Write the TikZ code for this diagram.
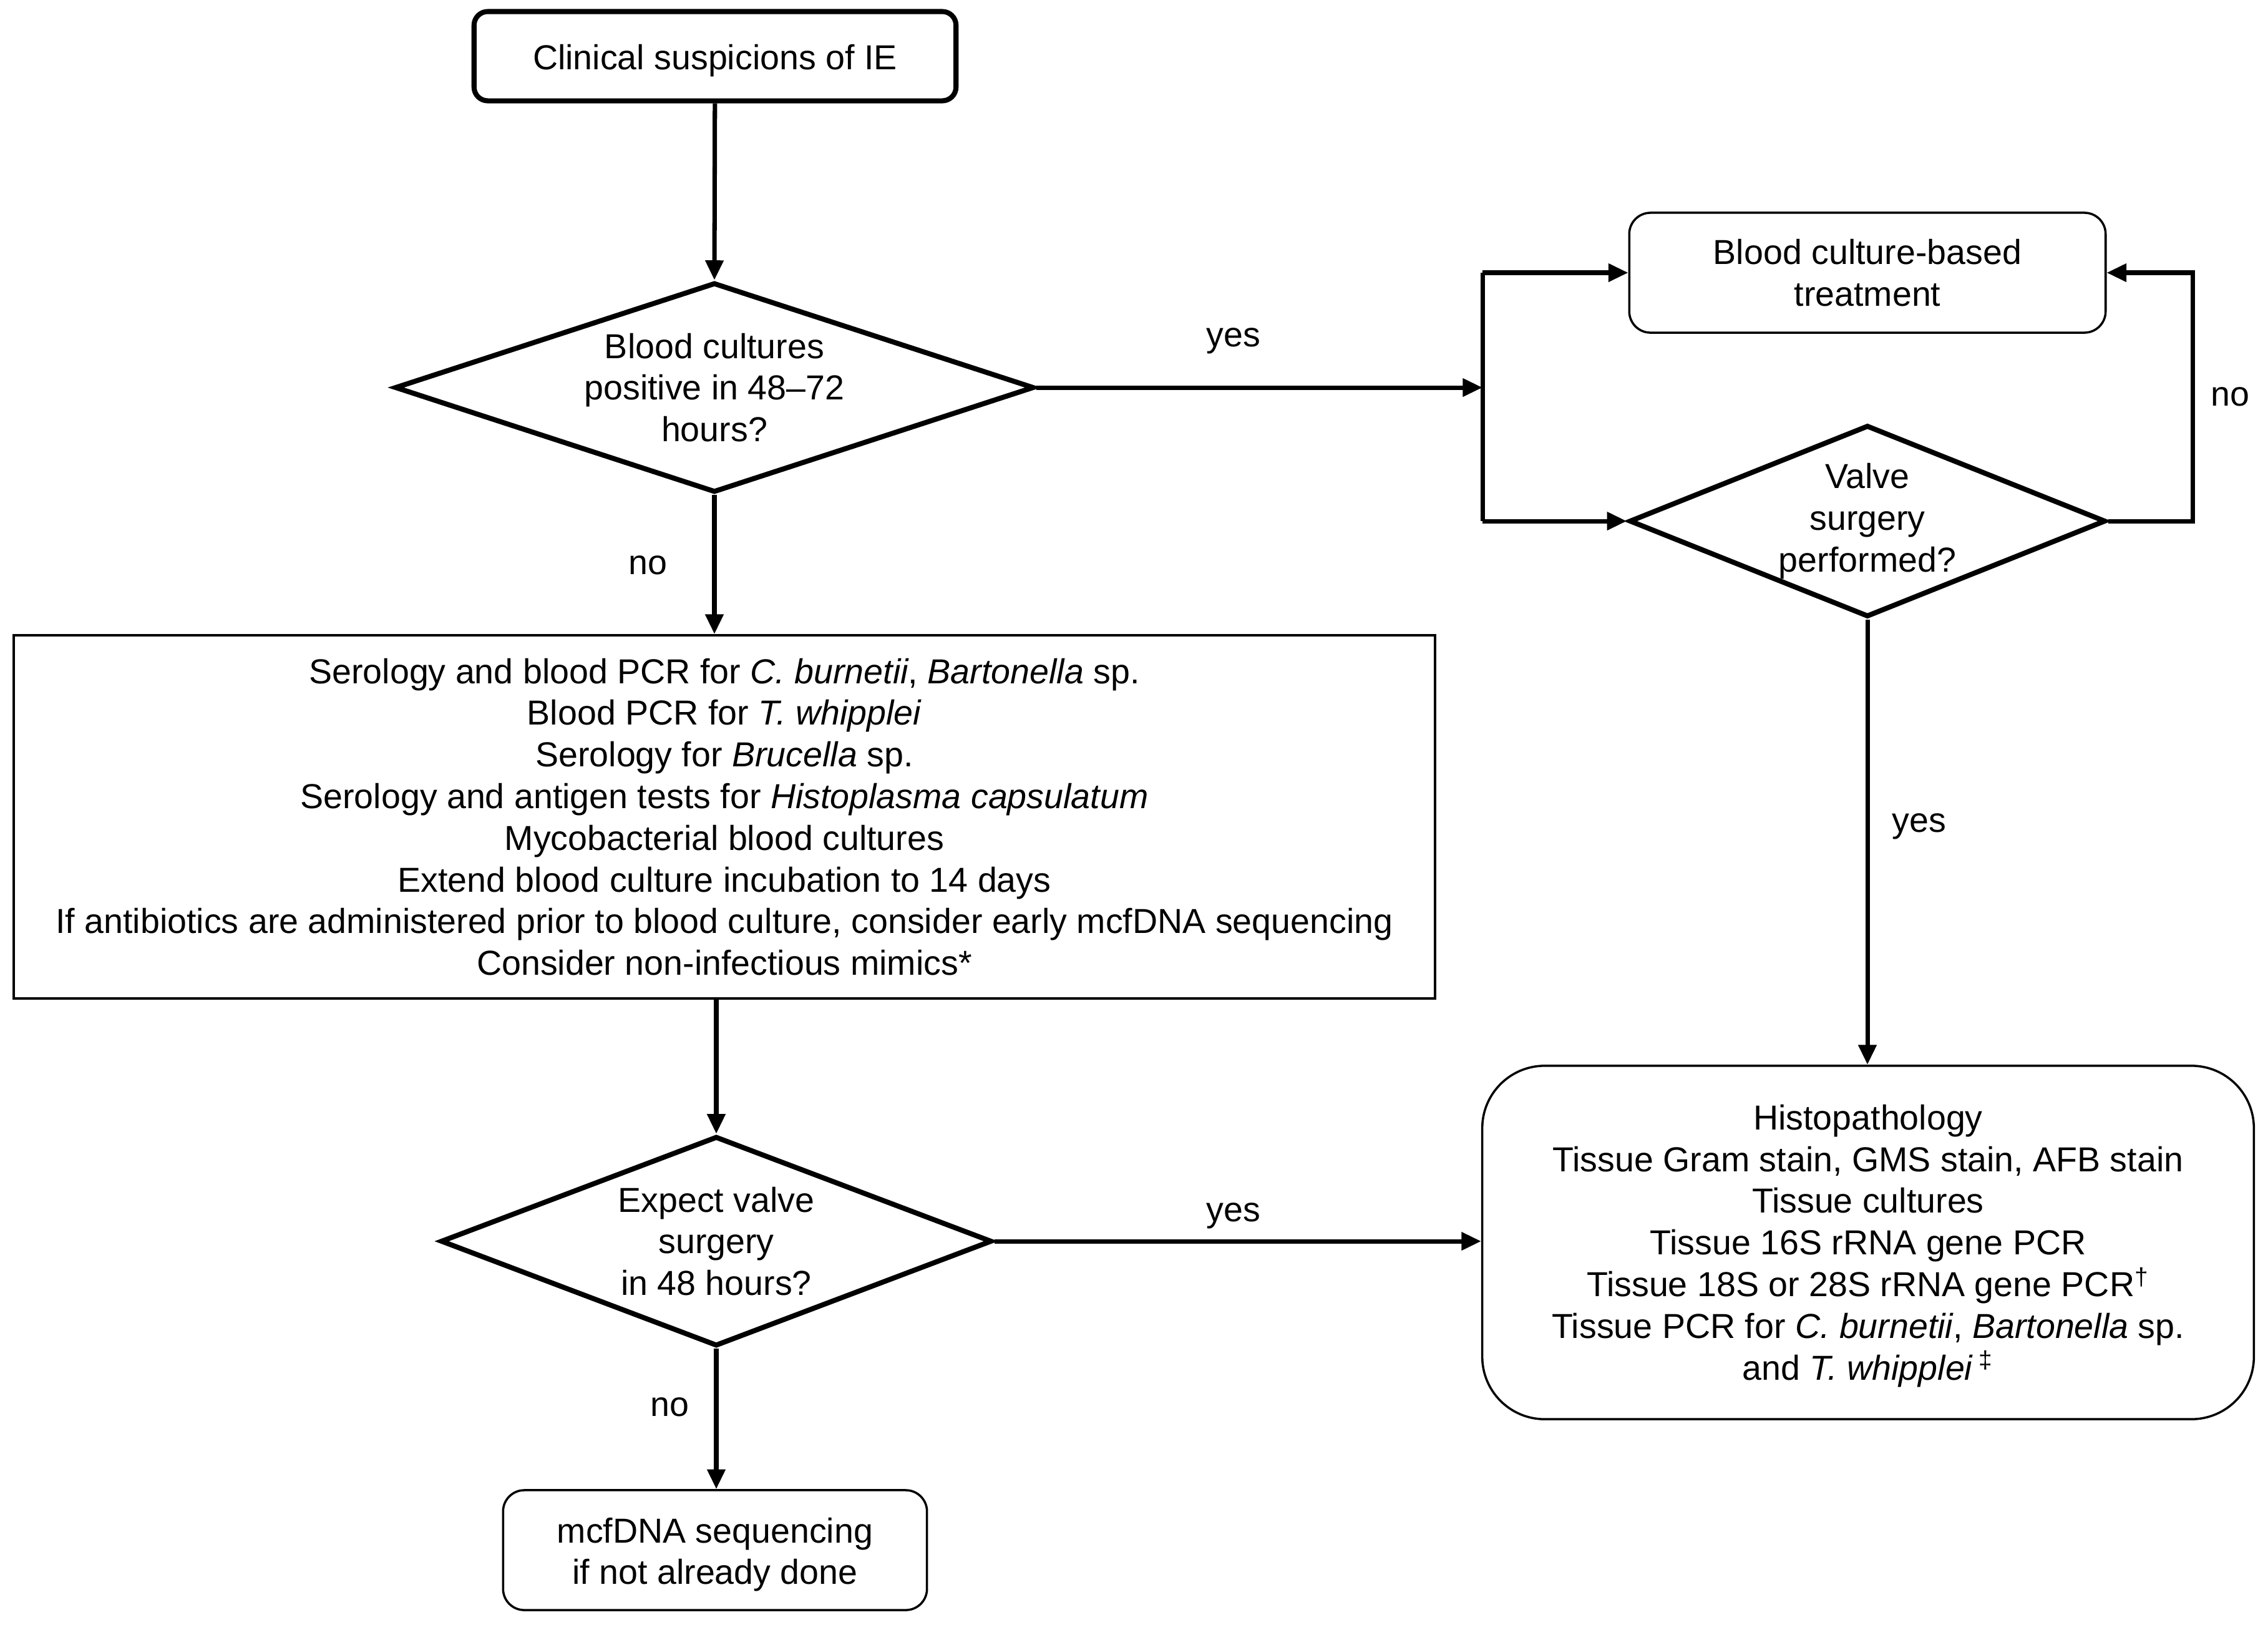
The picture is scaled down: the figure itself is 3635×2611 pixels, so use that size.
\documentclass[tikz,border=0pt]{standalone}
\usepackage{fontspec}
\setmainfont{Liberation Sans}
\usetikzlibrary{shapes.geometric,arrows.meta}
\begin{document}
\begin{tikzpicture}[x=0.01cm,y=-0.01cm,
  font=\fontsize{15.8pt}{19pt}\selectfont,
  startbox/.style={draw,line width=2.3pt,rounded corners=0.22cm,align=center,inner sep=0pt},
  plainbox/.style={draw,line width=1pt,align=center,inner sep=0pt},
  roundbox/.style={draw,line width=1pt,rounded corners=0.34cm,align=center,inner sep=0pt},
  decision/.style={draw,diamond,line width=2.3pt,align=center,inner sep=0pt},
  conn/.style={line width=2pt,-{Triangle[length=9pt,width=8pt]}},
  plainconn/.style={line width=2pt},
  lbl/.style={inner sep=0pt}]
\useasboundingbox (0,0) rectangle (3635,2611);

\node[startbox,minimum width=7.72cm,minimum height=1.43cm] (start) at (1146,90)
  {\rule{0pt}{15.5pt}Clinical suspicions of IE};
\node[decision,aspect=3.05,minimum width=10.24cm,minimum height=3.36cm] (d1) at (1145,621)
  {Blood cultures\\positive in 48–72\\hours?};
\node[plainbox,minimum width=22.77cm,minimum height=5.82cm] (tests) at (1161,1309)
  {Serology and blood PCR for \textit{C. burnetii}, \textit{Bartonella} sp.\\
   Blood PCR for \textit{T. whipplei}\\
   Serology for \textit{Brucella} sp.\\
   Serology and antigen tests for \textit{Histoplasma capsulatum}\\
   Mycobacterial blood cultures\\
   Extend blood culture incubation to 14 days\\
   If antibiotics are administered prior to blood culture, consider early mcfDNA sequencing\\
   Consider non-infectious mimics*};
\node[decision,aspect=2.63,minimum width=8.83cm,minimum height=3.36cm] (d2) at (1148,1989)
  {Expect valve\\surgery\\in 48 hours?};
\node[roundbox,minimum width=6.79cm,minimum height=1.92cm] (mcf) at (1146,2484)
  {\rule{0pt}{15.5pt}mcfDNA sequencing\\if not already done};
\node[roundbox,minimum width=7.63cm,minimum height=1.92cm] (treat) at (2993,437)
  {Blood culture-based\\treatment};
\node[decision,aspect=2.49,minimum width=7.63cm,minimum height=3.07cm] (valve) at (2993,835)
  {Valve\\surgery\\performed?};
\node[draw,line width=1pt,rounded corners=1.0cm,align=center,inner sep=0pt,
  minimum width=12.36cm,minimum height=5.66cm] (histo) at (2994,1991)
  {\rule{0pt}{14.5pt}Histopathology\\
   Tissue Gram stain, GMS stain, AFB stain\\
   Tissue cultures\\
   Tissue 16S rRNA gene PCR\\
   Tissue 18S or 28S rRNA gene PCR\textsuperscript{†}\\
   Tissue PCR for \textit{C. burnetii}, \textit{Bartonella} sp.\\
   and \textit{T. whipplei}\,\textsuperscript{‡}};

\coordinate (jn) at (2376,621);
\coordinate (jtop) at (2376,437);
\coordinate (jbot) at (2376,835);
\coordinate (rbot) at (3514,835);
\coordinate (rtop) at (3514,437);

\draw[conn] (start) -- (d1.north);
\draw[conn] (d1.south) -- (tests.north -| d1.south);
\draw[conn] (tests.south -| d2.north) -- (d2.north);
\draw[conn] (d2.south) -- (mcf.north -| d2.south);
\draw[conn] (d2.east) -- (d2.east -| histo.west);
\draw[conn] (d1.east) -- (jn);
\draw[plainconn] (jtop) -- (jbot);
\draw[conn] (jtop) -- (treat.west);
\draw[conn] (jbot) -- (valve.west);
\draw[conn] (valve.east) -- (rbot) -- (rtop) -- (treat.east);
\draw[conn] (valve.south) -- (histo.north -| valve.south);

\node[lbl] (l1) at (1977,546) {yes};
\node[lbl] (l2) at (1038,906) {no};
\node[lbl] (l3) at (3574,636) {no};
\node[lbl] (l4) at (3076,1324) {yes};
\node[lbl] (l5) at (1977,1948) {yes};
\node[lbl] (l6) at (1073,2255) {no};
\end{tikzpicture}
\end{document}
